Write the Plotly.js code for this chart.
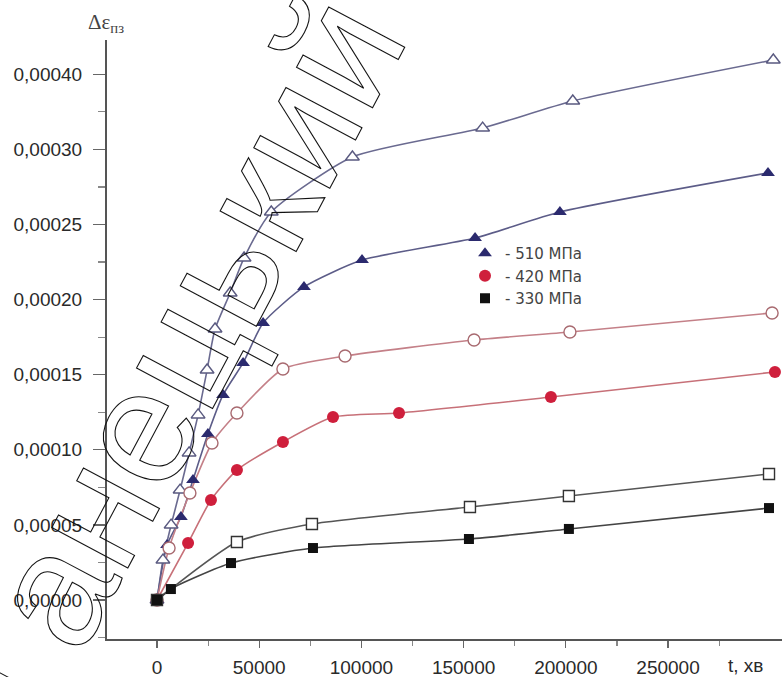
<!DOCTYPE html>
<html>
<head>
<meta charset="utf-8">
<script src="https://cdn.plot.ly/plotly-3.0.1.min.js"></script>
<style>
  html, body { margin: 0; padding: 0; background: #fff; }
  #chart { width: 782px; height: 677px; }
</style>
</head>
<body>
<div id="chart"></div>
<script>
// Creep strain increment vs time, three stress levels (open = upper curve, filled = lower curve)
const t510open = [0, 2900, 6900, 11300, 15700, 20100, 24500, 28400, 35800, 42600, 55900, 95600, 159300, 203400, 301500];
const e510open = [0, 2.66e-5, 4.99e-5, 7.32e-5, 9.79e-5, 1.232e-4, 1.531e-4, 1.804e-4, 2.044e-4, 2.277e-4, 2.583e-4, 2.949e-4, 3.142e-4, 3.322e-4, 3.595e-4];

const t510 = [0, 4900, 11700, 17600, 24900, 32300, 42100, 51900, 71900, 100300, 155600, 197100, 298900];
const e510 = [0, 3.66e-5, 5.53e-5, 7.99e-5, 1.105e-4, 1.365e-4, 1.578e-4, 1.844e-4, 2.084e-4, 2.263e-4, 2.41e-4, 2.583e-4, 2.843e-4];

const t420open = [0, 5900, 16100, 26900, 39100, 61600, 92000, 155100, 202000, 300900];
const e420open = [0, 3.46e-5, 7.12e-5, 1.045e-4, 1.245e-4, 1.538e-4, 1.624e-4, 1.731e-4, 1.784e-4, 1.911e-4];

const t420 = [0, 15200, 26400, 39100, 61600, 86100, 118400, 192700, 302300];
const e420 = [0, 3.79e-5, 6.66e-5, 8.65e-5, 1.052e-4, 1.218e-4, 1.245e-4, 1.351e-4, 1.518e-4];

const t330open = [0, 39100, 75800, 153100, 201500, 299400];
const e330open = [0, 3.86e-5, 5.06e-5, 6.19e-5, 6.92e-5, 8.39e-5];

const t330 = [0, 6800, 36200, 76300, 152600, 201500, 299400];
const e330 = [0, 7.3e-6, 2.46e-5, 3.46e-5, 4.06e-5, 4.73e-5, 6.12e-5];

const legendNames = ['- 510 МПа', '- 420 МПа', '- 330 МПа'];
const xTickVals = [0, 50000, 100000, 150000, 200000, 250000];
const xTickText = ['0', '50000', '100000', '150000', '200000', '250000'];
const xMinorVals = [25000, 75000, 125000, 175000, 225000, 275000];
const yTickVals = [0, 0.00005, 0.0001, 0.00015, 0.0002, 0.00025, 0.0003, 0.00035];
const yTickText = ['0,00000', '0,00005', '0,00010', '0,00015', '0,00020', '0,00025', '0,00030', '0,00040'];

const series = [
  { x: t510open, y: e510open, line: '#6a6a90', symbol: 'triangle-up-open', mcol: '#5a5a80', fill: '#ffffff', size: 12, legend: null },
  { x: t510, y: e510, line: '#5c5c88', symbol: 'triangle-up', mcol: '#2b2a6e', fill: '#2b2a6e', size: 12, legend: 0 },
  { x: t420open, y: e420open, line: '#c48088', symbol: 'circle-open', mcol: '#a86a70', fill: '#ffffff', size: 12, legend: null },
  { x: t420, y: e420, line: '#c77078', symbol: 'circle', mcol: '#cf1f3c', fill: '#cf1f3c', size: 12, legend: 1 },
  { x: t330open, y: e330open, line: '#555555', symbol: 'square-open', mcol: '#333333', fill: '#ffffff', size: 11, legend: null },
  { x: t330, y: e330, line: '#444444', symbol: 'square', mcol: '#111111', fill: '#111111', size: 10, legend: 2 }
];

const traces = [];
series.forEach(s => {
  traces.push({
    type: 'scatter', mode: 'lines', x: s.x, y: s.y,
    line: { color: s.line, width: 1.6, shape: 'spline', smoothing: 0.6 },
    showlegend: false, hoverinfo: 'skip'
  });
});
series.forEach(s => {
  const open = s.symbol.indexOf('open') >= 0;
  traces.push({
    type: 'scatter', mode: 'markers', x: s.x, y: s.y,
    name: s.legend === null ? '' : legendNames[s.legend],
    showlegend: s.legend !== null,
    marker: {
      symbol: open ? s.symbol.replace('-open', '') : s.symbol,
      size: s.size,
      color: s.fill,
      line: { color: s.mcol, width: open ? 1.4 : 0 }
    }
  });
});

const plotW = 675, plotH = 599;
const px = v => (v - 107) / plotW;
const py = v => (639 - v) / plotH;

const layout = {
  width: 782, height: 677,
  margin: { l: 107, r: 0, t: 40, b: 38, pad: 0 },
  paper_bgcolor: '#ffffff', plot_bgcolor: '#ffffff',
  font: { family: 'Liberation Sans, Arial, sans-serif', color: '#333' },
  xaxis: {
    range: [-24460, 305750],
    tickvals: xTickVals, ticktext: xTickText,
    ticks: 'outside', ticklen: 7, tickwidth: 1.2, tickcolor: '#666',
    ticklabelstandoff: 3,
    minor: { tickvals: xMinorVals, ticks: 'outside', ticklen: 5, tickcolor: '#888' },
    showgrid: false, zeroline: false,
    showline: true, linecolor: '#555', linewidth: 2,
    tickfont: { size: 19, color: '#2a2a2a' }
  },
  yaxis: {
    range: [-0.00002596, 0.0003728],
    tickvals: yTickVals, ticktext: yTickText,
    ticks: 'outside', ticklen: 12, tickwidth: 1.2, tickcolor: '#666',
    ticklabelstandoff: 7,
    minor: { dtick: 0.00005, tick0: 0.000025, ticks: 'outside', ticklen: 7, tickcolor: '#888' },
    showgrid: false, zeroline: false,
    showline: true, linecolor: '#555', linewidth: 2,
    tickfont: { size: 19, color: '#2a2a2a' }
  },
  legend: {
    x: px(465), y: py(237), xanchor: 'left', yanchor: 'top',
    bgcolor: 'rgba(0,0,0,0)', borderwidth: 0,
    font: { family: 'DejaVu Sans, sans-serif', size: 15, color: '#444' }
  },
  showlegend: true,
  annotations: [
    { xref: 'paper', yref: 'paper', x: px(106), y: py(23), xanchor: 'center', yanchor: 'middle',
      text: 'Δε<sub>пз</sub>', showarrow: false,
      font: { family: 'Liberation Serif, serif', size: 21, color: '#444' } },
    { xref: 'paper', yref: 'paper', x: px(745), y: py(665), xanchor: 'center', yanchor: 'middle',
      text: 't, хв', showarrow: false,
      font: { size: 19, color: '#2a2a2a' } },
    { xref: 'paper', yref: 'paper', x: px(176), y: py(356), xanchor: 'center', yanchor: 'middle',
      text: 'Ганецький', showarrow: false, textangle: -62,
      font: { family: 'Liberation Sans, Arial, sans-serif', size: 163, color: '#000' } }
  ]
};

Plotly.newPlot('chart', traces, layout, { staticPlot: true, displayModeBar: false }).then(gd => {
  // outline-only lettering for the diagonal name
  const texts = gd.querySelectorAll('.annotation-text');
  const mark = texts[texts.length - 1];
  if (mark) {
    mark.style.fill = 'none';
    mark.style.stroke = '#111';
    mark.style.strokeWidth = '1.1px';
  }
});
</script>
</body>
</html>
